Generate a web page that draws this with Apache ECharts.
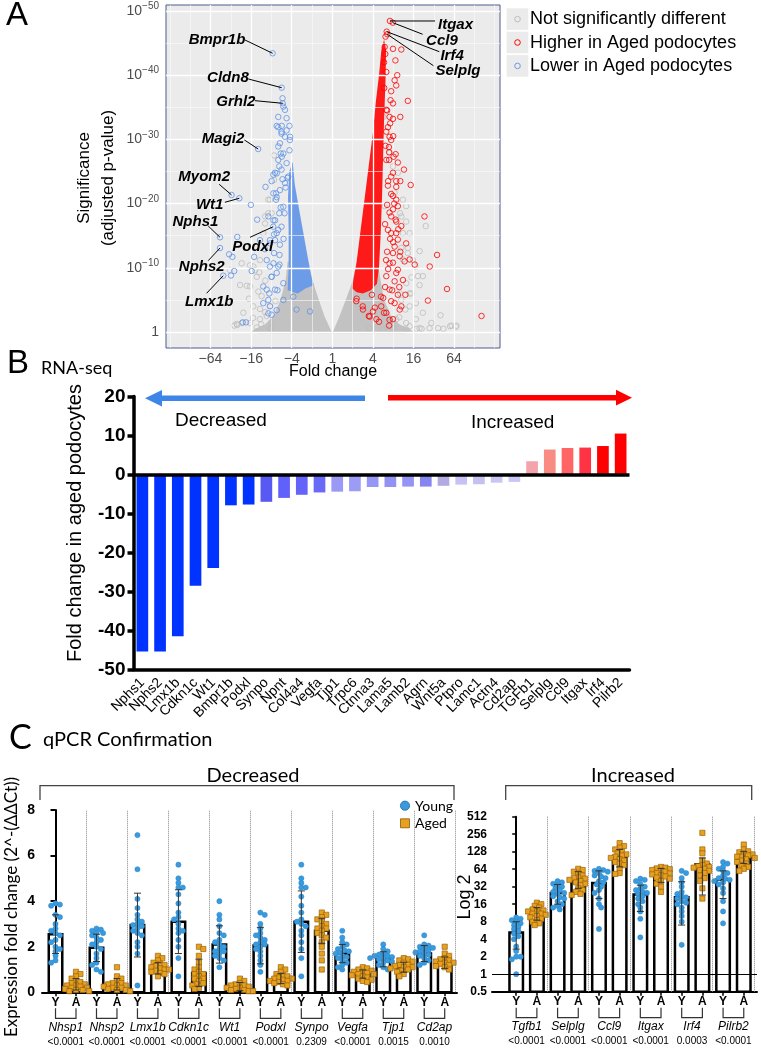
<!DOCTYPE html>
<html><head><meta charset="utf-8">
<script src="https://cdn.jsdelivr.net/npm/echarts@6/dist/echarts.min.js"></script>
<style>html,body{margin:0;padding:0;background:#fff}#c{width:761px;height:1050px}</style>
</head><body><div id="c"></div>
<script>
// ================= DATA =================
// ---- Panel A: volcano (x = log2 fold change, y = -log10 adjusted p) ----
const volcanoXTicks = [-6, -4, -2, 0, 2, 4, 6];
const volcanoXMinor = [-8, -7, -5, -3, -1, 1, 3, 5, 7, 8];
const volcanoYTicks = [0, 10, 20, 30, 40, 50];
const volcanoYMinor = [5, 15, 25, 35, 45];
const greyDenseArea = [[0,-0.2],[0.35,2.4],[0.66,5.0],[0.96,7.6],[1.1,9.5],[2.3,9.5],[2.55,5],[2.9,2.5],[3.3,1.2],[3.8,0.5],[4.0,0.0],[3.6,-0.2],[-3.6,-0.2],[-4.0,0.0],[-3.8,0.5],[-3.3,1.2],[-2.9,2.5],[-2.55,5],[-2.3,8],[-2.2,11],[-1.3,11],[-1.1,9.5],[-0.93,7.6],[-0.66,5.0],[-0.38,2.4]];
const blueDenseArea = [[-2.2,6.5],[-2.15,10],[-2.15,16],[-2.18,21],[-2.12,25],[-1.95,26.5],[-1.85,23],[-1.6,18.5],[-1.4,15],[-1.2,11.5],[-1.02,8.5],[-0.92,7.3],[-1.3,6.8],[-1.7,6.0]];
const redDenseArea = [[0.97,6.8],[1.2,11],[1.4,16],[1.6,21],[1.8,26],[2.0,31],[2.15,36],[2.3,40],[2.42,44],[2.55,45.5],[2.65,44],[2.62,39],[2.55,33],[2.5,27],[2.45,21],[2.38,15],[2.3,10],[2.2,7.5],[1.9,6.5],[1.5,6.0],[1.2,6.2]];
const greyPoints = [[-4.68,1.1],[-4.83,1.0],[-4.46,1.4],[-3.72,0.7],[-5.04,9.6],[-4.46,10.7],[-4.05,10.4],[-3.80,9.6],[-4.54,7.3],[-3.64,6.3],[-4.21,7.2],[-3.56,3.6],[-3.31,3.1],[-3.07,4.1],[-2.87,27.5],[-3.15,18.5],[-3.31,18.0],[-3.07,20.6],[-4.71,1.25],[-3.0,0.6],[3.64,17.2],[3.81,15.4],[3.40,13.1],[3.72,13.1],[4.09,10.2],[3.48,11.3],[4.46,8.7],[4.30,7.3],[3.81,6.0],[4.12,4.5],[3.89,6.0],[3.34,6.0],[5.33,2.6],[4.88,1.4],[5.80,0.9],[6.12,1.0],[4.30,0.6],[3.81,0.9],[3.64,1.4],[5.21,0.6],[4.79,0.6],[3.34,18.5],[3.48,20.6],[2.99,25.8],[2.82,27.9],[2.58,19.6],[2.51,33.5],[4.15,0.5],[4.40,0.5],[5.47,0.5],[5.88,1.0],[6.09,0.8],[-3.9,2.2],[-3.5,1.2],[-4.1,5.2],[-3.3,8.0],[-3.6,9.3],[3.6,3.5],[3.3,2.3],[3.9,8.5],[4.3,12.6],[4.6,16.5],[-2.8,4.8],[-3.0,1.5],
 [-3.56,11.2],[-3.89,10.2],[-3.72,8.6],[-4.05,7.1],[-3.48,5.6],[-3.89,4.0],[-4.38,3.0],[-3.23,2.5],[-3.56,2.0],[-4.05,1.4],[-3.07,0.6],[-3.31,16.9],[-2.99,18.5],[-3.40,15.4],[-2.87,23.7],[-3.15,20.6],
 [3.48,15.4],[3.72,12.3],[3.97,11.2],[4.22,8.7],[3.64,7.6],[3.40,5.0],[3.81,4.0],[4.46,3.0],[3.15,2.0],[4.12,2.0],[3.64,0.4],[2.99,0.6],[2.51,0.4],[1.84,0.6],[3.40,18.0],[3.64,19.6],[3.07,21.7],[3.23,24.8]];
const redPoints = [[2.84,48.44],[2.98,48.18],[2.68,46.78],[2.71,46.37],[2.62,46.0],[2.58,44.4],[2.99,44.1],[3.40,44.0],[2.61,43.3],[3.11,42.3],[2.55,42.0],[2.66,40.5],[3.07,39.2],[3.15,38.4],[2.56,38.0],[3.72,36.0],[2.99,35.6],[2.87,36.1],[2.70,34.5],[2.99,33.2],[2.66,31.2],[2.82,30.4],[2.62,29.0],[3.12,27.7],[3.23,26.4],[2.80,26.8],[3.53,25.3],[2.99,24.8],[2.75,23.5],[3.86,22.9],[3.15,22.6],[2.90,21.5],[3.15,20.6],[2.70,19.8],[4.54,18.0],[2.99,19.1],[3.15,17.2],[2.60,16.8],[2.74,15.9],[3.15,15.4],[2.85,14.5],[3.07,13.3],[2.70,12.5],[5.16,12.0],[4.80,10.2],[4.06,10.5],[3.81,11.3],[3.56,11.0],[3.48,8.1],[2.99,10.8],[3.15,9.2],[2.75,9.8],[5.65,6.7],[4.71,4.9],[3.40,4.0],[3.07,4.5],[2.99,2.0],[2.82,1.9],[7.35,2.5],[2.60,7.0],[2.40,5.5],[2.10,3.8],[1.80,2.5],[1.50,4.0],[1.20,5.2],[2.95,6.5],[3.30,7.0],[2.55,3.0],[3.60,5.8],[2.80,1.0],[2.30,1.6],[1.95,5.8],[2.65,11.2],[3.35,12.5],[3.0,14.0],[3.25,16.0],[2.9,18.0],[3.05,20.0],[3.35,23.5],[2.8,28.0],[3.0,30.5],[2.85,32.5],[3.35,33.5],[2.9,37.5],[3.2,40.0],
 [2.66,34.6],[2.82,33.5],[2.74,31.9],[2.90,29.9],[2.79,28.8],[3.02,27.3],[2.66,26.8],[2.90,24.2],[3.15,23.5],[2.74,22.8],[2.99,21.2],[3.23,19.6],[2.82,18.6],[3.12,17.5],[3.40,16.5],[2.90,15.4],[3.23,14.4],[3.64,13.8],[2.99,12.3],[3.32,11.8],[2.82,10.7],[3.23,9.7],[2.66,8.7],[3.07,7.9],[2.82,6.6],[3.23,5.8],[2.51,5.3],[2.90,4.8],[3.32,3.5],[2.66,3.0],[2.17,2.0],[1.84,2.4],[1.51,3.5],[1.18,4.8],[2.41,4.0],[2.0,3.2]];
const bluePoints = [[-2.94,43.41],[-2.49,38.05],[-2.44,35.62],[-2.45,36.4],[-2.41,35.1],[-2.33,34.6],[-3.65,28.5],[-4.96,21.34],[-4.58,20.83],[-4.01,19.8],[-3.70,17.5],[-3.29,22.6],[-4.68,14.8],[-5.53,14.75],[-5.53,13.08],[-5.08,12.1],[-4.92,11.7],[-5.37,8.77],[-4.99,8.8],[-4.83,9.5],[-3.97,9.5],[-3.85,11.7],[-3.56,14.3],[-2.91,16.4],[-2.82,14.3],[-2.66,33.5],[-2.74,32.1],[-2.66,28.9],[-2.90,24.5],[-2.99,23.5],[-2.77,21.6],[-4.41,1.5],[-4.25,1.5],[-3.15,2.9],[-3.40,4.5],[-3.10,6.0],[-2.74,9.2],[-2.99,8.6],[-2.90,10.7],[-3.07,13.8],[-2.82,17.4],[-2.66,26.8],[-2.54,27.8],[-2.50,30.9],[-2.25,31.4],[-2.09,29.9],[-2.25,33.3],[-2.11,32.1],[-2.49,32.1],[-2.08,30.4],[-2.11,28.3],[-2.49,27.3],[-2.82,24.8],[-2.61,25.8],[-2.90,21.6],[-2.74,21.0],[-2.54,19.4],[-3.15,18.0],[-2.87,15.2],[-2.66,15.9],[-3.32,12.9],[-3.07,10.2],[-2.41,7.6],[-3.23,6.6],[-3.07,4.0],[-2.41,5.0],[-1.92,5.5],[-1.76,3.5],[-1.1,3.2],[-2.6,12.0],[-2.4,14.5],[-2.35,18.5],[-2.3,22.5],[-2.45,23.8],[-2.2,24.0],[-2.6,10.5],[-2.7,6.5],
 [-2.66,31.9],[-2.50,31.2],[-2.33,30.4],[-2.58,29.4],[-2.41,27.8],[-2.25,26.3],[-2.50,25.3],[-2.74,24.7],[-2.17,24.2],[-2.33,23.2],[-2.58,22.1],[-2.77,20.6],[-2.41,19.5],[-2.61,18.5],[-2.90,17.4],[-2.50,16.4],[-2.74,15.4],[-3.07,14.3],[-2.58,13.6],[-2.87,12.3],[-3.23,11.2],[-2.66,10.2],[-2.99,8.6],[-3.40,7.1],[-2.82,6.6],[-3.15,5.0],[-2.74,3.4],[-2.99,2.7]];
const annGenes = ['Bmpr1b','Cldn8','Grhl2','Magi2','Myom2','Wt1','Nphs1','Podxl','Nphs2','Lmx1b','Itgax','Ccl9','Irf4','Selplg'];
const annPoints = [[-2.94,43.41],[-2.49,38.05],[-2.44,35.62],[-3.65,28.50],[-4.96,21.34],[-4.58,20.83],[-5.53,14.75],[-2.91,16.40],[-5.53,13.08],[-5.37,8.77],[2.84,48.44],[2.98,48.18],[2.68,46.78],[2.71,46.37]];
const annLineStart = [[-4.30,45.48],[-4.14,39.41],[-3.81,36.03],[-4.33,29.91],[-5.57,23.01],[-5.29,20.20],[-6.11,16.51],[-4.05,14.75],[-6.11,11.11],[-6.19,6.03],[5.06,48.44],[4.45,46.37],[5.27,43.66],[4.98,41.48]];
const annTextPos = [[-5.68,45.48],[-5.14,39.52],[-4.75,35.83],[-5.38,30.06],[-6.31,24.19],[-6.04,19.74],[-6.74,17.18],[-3.92,13.29],[-6.43,10.17],[-6.06,4.72],[6.07,47.82],[5.40,45.37],[5.90,43.04],[6.19,40.70]];
const volcanoLegend = ['Not significantly different','Higher in Aged podocytes','Lower in Aged podocytes'];

// ---- Panel B: RNA-seq fold change ----
const rnaGenes = ['Nphs1','Nphs2','Lmx1b','Cdkn1c','Wt1','Bmpr1b','Podxl','Synpo','Npnt','Col4a4','Vegfa','Tjp1','Trpc6','Ctnna3','Lama5','Lamb2','Agrn','Wnt5a','Ptpro','Lamc1','Actn4','Cd2ap','TGFb1','Selplg','Ccl9','Itgax','Irf4','Pilrb2'];
const rnaFold = [-45.4,-45.4,-41.5,-28.5,-24.0,-7.9,-7.7,-7.0,-6.0,-5.2,-4.6,-4.4,-4.3,-3.2,-3.2,-3.1,-3.1,-2.9,-2.6,-2.5,-2.1,-1.9,3.4,6.4,6.8,6.9,7.3,10.5];
const rnaBarColors = ['#0033ff','#0033ff','#0033ff','#0033ff','#0033ff','#0033ff','#0033ff','#5858f2','#6060fa','#6464fa','#6a6af8','#9a9af6','#9c9cf6','#9696f4','#9292f5','#9494f5','#8686f0','#b2aae0','#c6c2f4','#c4c0f0','#c8c6f2','#cac6f5','#f4a3ab','#f98c82','#ff6565','#ff3344','#ff0000','#ff0000'];

// ---- Panel C left: Decreased (linear) ----
const decGenes = ['Nhsp1','Nhsp2','Lmx1b','Cdkn1c','Wt1','Podxl','Synpo','Vegfa','Tjp1','Cd2ap'];
const decP = ['<0.0001','<0.0001','<0.0001','<0.0001','<0.0001','<0.0001','0.2309','<0.0001','0.0015','0.0010'];
const decYoungMean = [2.55,1.95,2.95,3.1,2.1,2.05,3.1,1.7,1.45,1.7];
const decAgedMean = [0.35,0.35,1.05,0.85,0.25,0.6,2.7,0.8,1.1,1.3];
const decYoungSD = [0.85,0.6,1.4,1.4,0.82,0.8,1.35,0.4,0.33,0.35];
const decAgedSD = [0.25,0.25,0.25,0.6,0.18,0.22,0.55,0.18,0.22,0.25];
const decYoungPts = [
 [3.9,3.85,3.8,3.4,3.3,3.0,2.8,2.7,2.6,2.5,2.3,2.2,2.0,1.9,1.8,1.6,1.4,1.3],
 [2.8,2.75,2.7,2.6,2.6,2.5,2.4,2.3,2.2,2.1,2.0,1.9,1.7,1.5,1.3,1.2,1.0,0.9],
 [6.9,5.4,4.1,3.7,3.4,3.2,3.1,3.0,2.95,2.9,2.8,2.7,2.6,2.5,2.2,2.0,1.7,0.3],
 [5.6,5.0,4.8,4.6,4.6,4.3,3.9,3.5,3.3,3.2,3.0,2.8,2.7,2.6,2.3,2.0,1.5,0.7],
 [4.0,3.4,3.2,2.9,2.6,2.5,2.3,2.2,2.1,2.0,1.9,1.8,1.8,1.7,1.6,1.5,1.4,1.1],
 [3.5,3.4,3.0,2.8,2.6,2.5,2.4,2.3,2.2,2.1,2.1,2.0,1.9,1.8,1.6,1.4,1.2,0.9],
 [5.6,5.0,4.8,4.6,4.6,4.2,3.8,3.5,3.2,3.1,3.0,2.9,2.7,2.5,2.2,1.9,1.5,0.7],
 [2.7,2.4,2.2,2.1,2.0,1.9,1.85,1.8,1.75,1.7,1.6,1.55,1.5,1.4,1.3,1.2,1.1,1.0],
 [2.1,1.9,1.8,1.7,1.65,1.6,1.6,1.55,1.5,1.5,1.45,1.4,1.35,1.3,1.2,1.1,1.0],
 [2.5,2.1,2.05,2.0,1.95,1.9,1.85,1.8,1.75,1.7,1.65,1.6,1.5,1.4,1.3,1.2]];
const decAgedPts = [
 [0.9,0.8,0.7,0.6,0.5,0.45,0.4,0.35,0.3,0.3,0.25,0.2,0.2,0.15,0.1,0.1,0.05,0.05],
 [1.1,0.7,0.6,0.5,0.4,0.4,0.35,0.3,0.3,0.25,0.2,0.2,0.15,0.1,0.1,0.05],
 [1.6,1.5,1.4,1.3,1.25,1.2,1.15,1.1,1.05,1.0,1.0,0.95,0.9,0.85,0.8,0.7],
 [2.0,1.9,1.6,1.3,1.1,1.0,0.9,0.8,0.8,0.7,0.6,0.6,0.5,0.4,0.35,0.3,0.2,0.15],
 [0.6,0.5,0.4,0.35,0.3,0.3,0.25,0.2,0.2,0.15,0.1,0.1,0.05,0.05],
 [1.1,1.0,0.9,0.8,0.75,0.7,0.65,0.6,0.6,0.55,0.5,0.5,0.45,0.4,0.35,0.3],
 [3.5,3.4,3.3,3.2,3.1,3.0,2.9,2.8,2.8,2.7,2.6,2.5,2.4,2.2,2.0,1.7,1.4,1.0],
 [1.1,1.05,1.0,0.95,0.9,0.9,0.85,0.8,0.8,0.75,0.7,0.65,0.6,0.55,0.5,0.45],
 [1.5,1.45,1.4,1.35,1.3,1.2,1.2,1.15,1.1,1.1,1.05,1.0,0.95,0.9,0.8,0.7],
 [2.0,1.7,1.6,1.5,1.45,1.4,1.35,1.3,1.3,1.25,1.2,1.15,1.1,1.0]];

// ---- Panel C right: Increased (log2 axis) ----
const incGenes = ['Tgfb1','Selplg','Ccl9','Itgax','Irf4','Pilrb2'];
const incP = ['<0.0001','<0.0001','<0.0001','<0.0001','0.0003','<0.0001'];
const incYoungMean = [5.2,25,37,23.5,21,42];
const incAgedMean = [10.8,42,104,52,78,101];
const incYoungLow = [2.7,16,20,12,7,20];
const incYoungHigh = [8,35,60,34,39,60];
const incAgedLow = [8.5,30,70,38,23,80];
const incAgedHigh = [14,58,140,66,100,128];
const incYoungPts = [
 [9.5,9,8.5,8,7.5,7,6.5,6,5.5,5,4.5,4,3,2.5,2,2,1.8,1.0],
 [40,38,36,34,32,30,28,26,25,24,22,21,20,18,16,15,14,13],
 [65,62,60,58,55,50,48,45,40,38,35,32,28,25,20,16,14,6],
 [44,42,40,36,32,30,28,26,25,24,22,20,18,16,14,12,9,4.3],
 [60,55,45,38,32,26,24,22,21,20,18,17,16,14,12,10,8,3.2],
 [85,80,70,65,60,55,50,45,44,42,40,38,35,30,25,18,12,7.5]];
const incAgedPts = [
 [17,16,15,14,13,12.5,12,12,11,11,10.5,10,9.5,9,8.5,8,7.5,7],
 [65,62,58,54,50,46,45,44,42,40,38,36,34,30,28,26,24,23],
 [180,160,150,140,130,120,115,110,105,100,95,90,85,80,75,65,55,53],
 [70,68,66,64,62,60,58,55,54,52,50,48,46,44,40,36,32,26],
 [270,140,120,90,80,75,72,70,68,65,62,60,55,50,45,40,30,20],
 [170,140,130,125,120,115,110,105,105,100,95,90,85,80,75,70,65,60]];

// ================= RENDERING =================
const AF = '"Liberation Sans", Arial, sans-serif';
const CF = 'Lato, "Open Sans", sans-serif';
const chart = echarts.init(document.getElementById('c'));

const pow2Label = v => v === 0 ? '1' : (v < 0 ? '\u2212' + Math.pow(2, -v) : String(Math.pow(2, v)));

function polySeries(area, fill, z) {
  return { type: 'custom', xAxisIndex: 0, yAxisIndex: 0, z: z, silent: true, clip: true,
    data: [area[0]],
    renderItem: (p, api) => ({ type: 'polygon', shape: { points: area.map(pt => api.coord(pt)) }, style: { fill: fill } }) };
}
function hollow(name, pts, color, z) {
  return { name, type: 'scatter', xAxisIndex: 0, yAxisIndex: 0, z, silent: true, data: pts, symbolSize: 5.5,
    itemStyle: { color: 'rgba(0,0,0,0)', borderColor: color, borderWidth: 1 } };
}
// deterministic beeswarm: offsets in pixels, balanced left/right
function swarmOffsets(pys, d, step) {
  const order = pys.map((y, i) => i).sort((a, b) => pys[a] - pys[b]);
  const placed = []; const off = new Array(pys.length).fill(0);
  let flip = 1;
  order.forEach(i => {
    const y = pys[i];
    for (let k = 0; k < 40; k++) {
      const m = Math.ceil(k / 2); const sgn = (k % 2 ? 1 : -1) * flip;
      const dx = k === 0 ? 0 : sgn * m * step;
      if (placed.every(p => (p[0] - dx) * (p[0] - dx) + (p[1] - y) * (p[1] - y) >= d * d)) {
        placed.push([dx, y]); off[i] = dx; if (dx !== 0) flip = -flip; return;
      }
    }
    placed.push([0, y]);
  });
  return off;
}

function qpcrSeries(ax, genes, pvals, yMean, aMean, yPts, aPts, lowF, highF, tf, yMin) {
  const pos = [], means = [], lows = [], highs = [], pts = [];
  genes.forEach((g, i) => {
    pos.push(2 * i, 2 * i + 1);
    means.push(tf(yMean[i]), tf(aMean[i]));
    lows.push(tf(lowF('Y', i)), tf(lowF('A', i)));
    highs.push(tf(highF('Y', i)), tf(highF('A', i)));
    pts.push(yPts[i].map(tf), aPts[i].map(tf));
  });
  const base = { type: 'custom', xAxisIndex: ax, yAxisIndex: ax, silent: true };
  const seps = genes.map((g, i) => ({ xAxis: 2 * i + 1.5 }));
  return [
    Object.assign({}, base, { z: 2, data: pos.map((x, i) => [x, means[i]]),
      markLine: { silent: true, symbol: ['none', 'none'], label: { show: false }, lineStyle: { color: '#888', width: 1, type: 'dotted' }, data: seps },
      renderItem: (p, api) => {
        const t = api.coord([api.value(0), api.value(1)]); const b = api.coord([api.value(0), yMin]); const w = 13.5;
        return { type: 'rect', shape: { x: t[0] - w / 2, y: t[1], width: w, height: b[1] - t[1] }, style: { fill: '#fff', stroke: '#000', lineWidth: 2.5 } };
      } }),
    Object.assign({}, base, { z: 3, data: pos.map((x, i) => [x, means[i]]),
      renderItem: (p, api) => {
        const i = p.dataIndex; const x = pos[i]; const vals = pts[i];
        const cs = vals.map(v => api.coord([x, v]));
        const off = swarmOffsets(cs.map(c => c[1]), 3.8, 2.2);
        const young = i % 2 === 0;
        return { type: 'group', children: cs.map((c, k) => young
          ? { type: 'circle', shape: { cx: c[0] + off[k], cy: c[1], r: 2.6 }, style: { fill: '#3a9ade', stroke: '#2b86c8', lineWidth: 0.5 } }
          : { type: 'rect', shape: { x: c[0] + off[k] - 2.6, y: c[1] - 2.6, width: 5.2, height: 5.2 }, style: { fill: '#e8a020', stroke: '#9a6408', lineWidth: 0.7 } }) };
      } }),
    Object.assign({}, base, { z: 4, data: pos.map((x, i) => [x, means[i]]),
      renderItem: (p, api) => {
        const i = p.dataIndex; const lo = api.coord([pos[i], lows[i]]); const hi = api.coord([pos[i], highs[i]]); const c = 3.5;
        const st = { stroke: '#333', lineWidth: 1 };
        return { type: 'group', children: [
          { type: 'line', shape: { x1: lo[0], y1: lo[1], x2: hi[0], y2: hi[1] }, style: st },
          { type: 'line', shape: { x1: lo[0] - c, y1: lo[1], x2: lo[0] + c, y2: lo[1] }, style: st },
          { type: 'line', shape: { x1: hi[0] - c, y1: hi[1], x2: hi[0] + c, y2: hi[1] }, style: st }] };
      } }),
    Object.assign({}, base, { z: 5, data: genes.map((g, i) => [2 * i + 0.5, yMin]),
      renderItem: (p, api) => {
        const i = p.dataIndex; const a = api.coord([2 * i, yMin]); const b = api.coord([2 * i + 1, yMin]); const y0 = a[1]; const mx = (a[0] + b[0]) / 2;
        return { type: 'group', children: [
          { type: 'polyline', shape: { points: [[a[0], y0 + 16], [a[0], y0 + 26], [b[0], y0 + 26], [b[0], y0 + 16]] }, style: { stroke: '#333', lineWidth: 1.2, fill: null } },
          { type: 'text', style: { text: genes[i], x: mx, y: y0 + 35, font: 'italic 12px ' + AF, fill: '#000', textAlign: 'center', textVerticalAlign: 'middle', align: 'center', verticalAlign: 'middle' } },
          { type: 'text', style: { text: pvals[i], x: mx, y: y0 + 50, font: '10px ' + AF, fill: '#000', textAlign: 'center', textVerticalAlign: 'middle', align: 'center', verticalAlign: 'middle' } }] };
      } })
  ];
}

const lin = v => v, lg = v => Math.log2(v);
const decSeries = qpcrSeries(2, decGenes, decP, decYoungMean, decAgedMean, decYoungPts, decAgedPts,
  (w, i) => Math.max(0.001, w === 'Y' ? decYoungMean[i] - decYoungSD[i] : decAgedMean[i] - decAgedSD[i]),
  (w, i) => w === 'Y' ? decYoungMean[i] + decYoungSD[i] : decAgedMean[i] + decAgedSD[i], lin, 0);
const incSeries = qpcrSeries(3, incGenes, incP, incYoungMean, incAgedMean, incYoungPts, incAgedPts,
  (w, i) => w === 'Y' ? incYoungLow[i] : incAgedLow[i],
  (w, i) => w === 'Y' ? incYoungHigh[i] : incAgedHigh[i], lg, -1);
incSeries.push({ type: 'scatter', xAxisIndex: 3, yAxisIndex: 3, data: [], z: 6, silent: true,
  markLine: { silent: true, symbol: ['none', 'none'], label: { show: false }, lineStyle: { color: '#000', width: 1, type: 'solid' }, data: [{ yAxis: lg(1) }] } });

const qAxisX = (gi, min, max, n) => ({ type: 'value', gridIndex: gi, min, max, splitLine: { show: false },
  axisLine: { show: true, onZero: false, lineStyle: { color: '#000', width: 2 } },
  axisTick: { show: true, customValues: Array.from({ length: n }, (v, i) => i), length: 4, lineStyle: { color: '#000', width: 1.5 } },
  axisLabel: { customValues: Array.from({ length: n }, (v, i) => i), formatter: v => (Math.round(v) % 2 ? 'A' : 'Y'), fontFamily: AF, fontWeight: 'bold', fontSize: 12, color: '#000', margin: 4 } });

const textEl = (text, x, y, font) => ({ type: 'text', x, y, silent: true, style: { text, x: 0, y: 0, font, fill: '#000', textAlign: 'left', textVerticalAlign: 'middle', align: 'left', verticalAlign: 'middle' } });
const centerText = (text, x, y, font, rot) => ({ type: 'text', x, y, rotation: rot || 0, silent: true, style: { text, x: 0, y: 0, font, fill: '#000', textAlign: 'center', textVerticalAlign: 'middle', align: 'center', verticalAlign: 'middle' } });

const legendColors = ['#bdbdbd', '#ff0000', '#6c9be8'];
const graphics = [
  textEl('A', 6, 16, '33px ' + AF),
  textEl('B', 7, 364, '33px ' + AF),
  textEl('RNA-seq', 41, 368, '18px ' + CF),
  textEl('C', 9, 738, '34px ' + CF),
  textEl('qPCR Confirmation', 43, 740, '20px ' + CF),
  centerText('Significance', 84, 178, '17px ' + AF, Math.PI / 2),
  centerText('(adjusted p-value)', 108, 178, '17px ' + AF, Math.PI / 2),
  centerText('Fold change', 333, 372, '16px ' + AF),
  centerText('Fold change in aged podocytes', 75, 523, '20px ' + AF, Math.PI / 2),
  centerText('Expression fold change (2^-(\u0394\u0394Ct))', 12, 907, '17px ' + CF, Math.PI / 2),
  centerText('Log 2', 465, 897, '18px ' + AF, Math.PI / 2),
  textEl('Decreased', 175, 421, '19px ' + AF),
  textEl('Increased', 471, 423, '19px ' + AF),
  { type: 'rect', silent: true, shape: { x: 158, y: 395.6, width: 207, height: 5.4 }, style: { fill: '#3d85e6' } },
  { type: 'polygon', silent: true, shape: { points: [[145, 398.3], [162, 390], [162, 406.6]] }, style: { fill: '#3d85e6' } },
  { type: 'rect', silent: true, shape: { x: 388, y: 395, width: 232, height: 5.4 }, style: { fill: '#ff0000' } },
  { type: 'polygon', silent: true, shape: { points: [[632, 397.7], [616, 389.8], [616, 405.6]] }, style: { fill: '#ff0000' } },
  { type: 'polyline', silent: true, shape: { points: [[40, 800], [40, 785.7], [454, 785.7], [454, 800]] }, style: { stroke: '#444', lineWidth: 1.3, fill: null } },
  { type: 'polyline', silent: true, shape: { points: [[505.7, 800], [505.7, 785.7], [751.7, 785.7], [751.7, 800]] }, style: { stroke: '#444', lineWidth: 1.3, fill: null } },
  centerText('Decreased', 253, 776, '20px ' + CF),
  centerText('Increased', 633, 776, '20px ' + CF),
  { type: 'circle', silent: true, shape: { cx: 405, cy: 805.7, r: 4.6 }, style: { fill: '#3a9ade', stroke: '#1d6aa8', lineWidth: 0.8 } },
  textEl('Young', 415, 806, '14px ' + CF),
  { type: 'rect', silent: true, shape: { x: 400.5, y: 818.8, width: 9, height: 9 }, style: { fill: '#e8a020', stroke: '#8a5a00', lineWidth: 0.8 } },
  textEl('Aged', 415, 823.5, '14px ' + CF)
];
volcanoLegend.forEach((t, i) => {
  graphics.push({ type: 'rect', silent: true, shape: { x: 506.7, y: 8.3 + i * 23.4, width: 21.6, height: 21.6 }, style: { fill: '#ebebeb' } });
  graphics.push({ type: 'circle', silent: true, shape: { cx: 517.5, cy: 19.1 + i * 23.4, r: 2.8 }, style: { fill: 'none', stroke: legendColors[i], lineWidth: 1 } });
  graphics.push(textEl(t, 530, 19.5 + i * 23.4, '18px ' + AF));
});

const option = {
  animation: false,
  grid: [
    { left: 166, top: 5, width: 334, height: 343, show: true, backgroundColor: '#ebebeb', borderColor: '#4a5d8c', borderWidth: 1 },
    { left: 133.5, top: 396.5, width: 496, height: 273 },
    { left: 42, top: 810, width: 415, height: 182.3 },
    { left: 492, top: 816.7, width: 265, height: 175 }
  ],
  xAxis: [
    { type: 'value', gridIndex: 0, min: -8.19, max: 8.26, splitLine: { show: false }, axisLine: { show: false },
      axisTick: { show: true, customValues: volcanoXTicks, length: 4, lineStyle: { color: '#333' } },
      axisLabel: { customValues: volcanoXTicks, formatter: pow2Label, color: '#4d4d4d', fontSize: 14, fontFamily: AF, margin: 4 } },
    { type: 'category', gridIndex: 1, data: rnaGenes, position: 'bottom',
      axisLine: { onZero: false, lineStyle: { color: '#000', width: 3.5 } },
      axisTick: { alignWithLabel: true, length: 9, lineStyle: { color: '#000', width: 3.5 } },
      axisLabel: { interval: 0, rotate: 45, fontSize: 14, fontFamily: AF, color: '#000', margin: 11 } },
    qAxisX(2, -0.66, 19.6, 20),
    qAxisX(3, -1.17, 11.64, 12)
  ],
  yAxis: [
    { type: 'value', gridIndex: 0, min: -2.49, max: 50.93, splitLine: { show: false }, axisLine: { show: false },
      axisTick: { show: true, customValues: volcanoYTicks, length: 4, lineStyle: { color: '#333' } },
      axisLabel: { customValues: volcanoYTicks, margin: 7,
        formatter: v => v === 0 ? '{b|1}' : '{b|10}{s|\u2212' + v + '}',
        rich: { b: { fontSize: 14, color: '#4d4d4d', fontFamily: AF }, s: { fontSize: 10, color: '#4d4d4d', fontFamily: AF, padding: [0, 0, 9, 0] } } } },
    { type: 'value', gridIndex: 1, min: -50, max: 20, interval: 10, splitLine: { show: false },
      axisLine: { show: true, lineStyle: { color: '#000', width: 3.5 } },
      axisTick: { show: true, length: 6, lineStyle: { color: '#000', width: 3.5 } },
      axisLabel: { fontSize: 19, fontWeight: 'bold', fontFamily: AF, color: '#000', margin: 8 } },
    { type: 'value', gridIndex: 2, min: 0, max: 8, interval: 2, splitLine: { show: false },
      axisLine: { show: true, lineStyle: { color: '#000', width: 2 } },
      axisTick: { show: true, length: 5, lineStyle: { color: '#000', width: 2 } },
      axisLabel: { fontSize: 14, fontWeight: 'bold', fontFamily: AF, color: '#000', margin: 7 } },
    { type: 'value', gridIndex: 3, min: -1, max: 9, interval: 1, splitLine: { show: false },
      axisLine: { show: true, lineStyle: { color: '#000', width: 2 } },
      axisTick: { show: true, length: 4, lineStyle: { color: '#000', width: 1.5 } },
      axisLabel: { fontSize: 12, fontWeight: 'bold', fontFamily: AF, color: '#000', margin: 5, formatter: v => String(Math.pow(2, v)) } }
  ],
  series: [
    { type: 'scatter', xAxisIndex: 0, yAxisIndex: 0, data: [], z: 1, silent: true,
      markLine: { silent: true, symbol: ['none', 'none'], label: { show: false },
        data: [].concat(
          volcanoXMinor.map(v => ({ xAxis: v, lineStyle: { color: '#fafafa', width: 0.6, type: 'solid' } })),
          volcanoYMinor.map(v => ({ yAxis: v, lineStyle: { color: '#fafafa', width: 0.6, type: 'solid' } })),
          volcanoXTicks.map(v => ({ xAxis: v, lineStyle: { color: '#ffffff', width: 1.3, type: 'solid' } })),
          volcanoYTicks.map(v => ({ yAxis: v, lineStyle: { color: '#ffffff', width: 1.3, type: 'solid' } }))) } },
    polySeries(greyDenseArea, '#c2c2c2', 2),
    hollow('grey', greyPoints, '#bdbdbd', 3),
    polySeries(blueDenseArea, '#6c9be8', 4),
    polySeries(redDenseArea, '#ff1a1a', 4),
    hollow('blue', bluePoints, '#5f92e6', 5),
    hollow('red', redPoints, '#ff0000', 5),
    { type: 'custom', xAxisIndex: 0, yAxisIndex: 0, z: 6, silent: true, data: annPoints,
      renderItem: (p, api) => {
        const i = p.dataIndex; const pt = api.coord(annPoints[i]); const s = api.coord(annLineStart[i]); const t = api.coord(annTextPos[i]);
        return { type: 'group', children: [
          { type: 'line', shape: { x1: s[0], y1: s[1], x2: pt[0], y2: pt[1] }, style: { stroke: '#000', lineWidth: 1 } },
          { type: 'text', style: { text: annGenes[i], x: t[0], y: t[1], font: 'italic bold 15px ' + AF, fill: '#000', textAlign: 'center', textVerticalAlign: 'middle', align: 'center', verticalAlign: 'middle' } }] };
      } },
    { type: 'bar', xAxisIndex: 1, yAxisIndex: 1, data: rnaFold, barWidth: '66%', silent: true,
      itemStyle: { color: p => rnaBarColors[p.dataIndex] },
      markLine: { silent: true, symbol: ['none', 'none'], label: { show: false }, lineStyle: { color: '#000', width: 3.5, type: 'solid' }, data: [{ yAxis: 0 }] } }
  ].concat(decSeries, incSeries),
  graphic: graphics
};
chart.setOption(option);
</script></body></html>
